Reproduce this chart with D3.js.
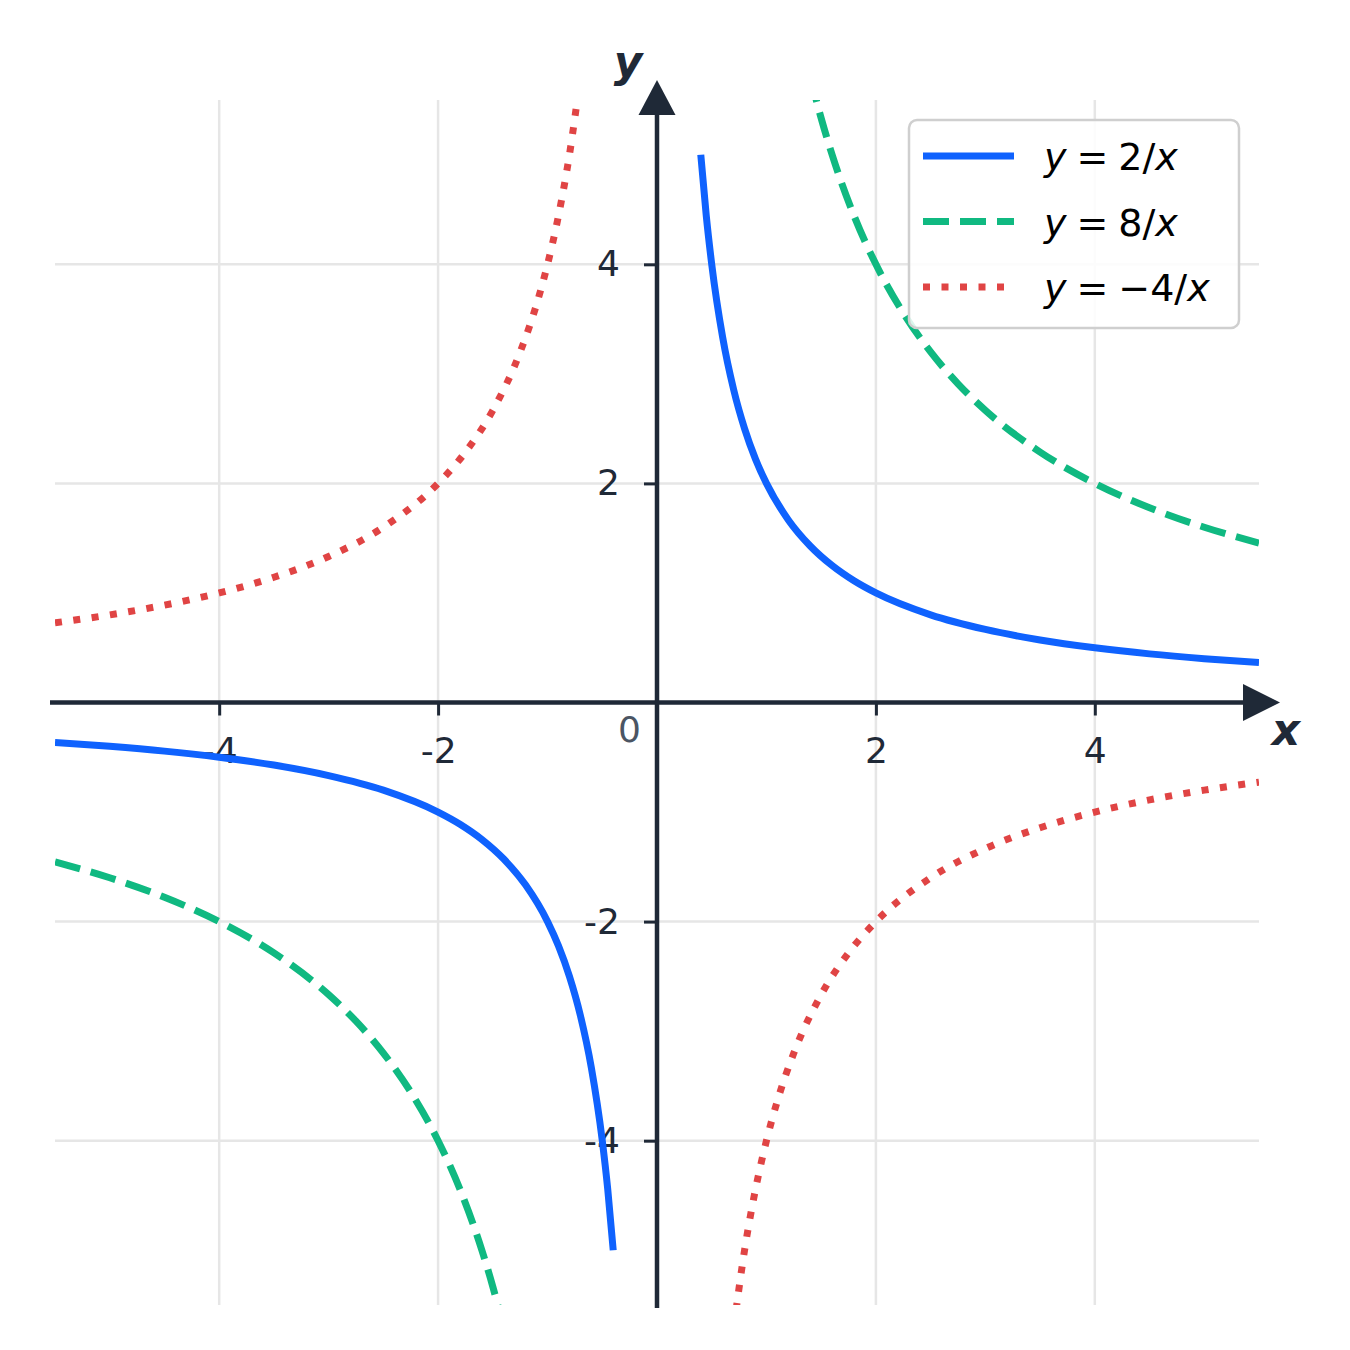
<!DOCTYPE html>
<html>
<head>
<meta charset="utf-8">
<script src="https://cdn.jsdelivr.net/npm/d3@7"></script>
<style>
    html, body { margin: 0; padding: 0; background: #fff; }
    svg { display: block; font-family: "DejaVu Sans", sans-serif; }
</style>
</head>
<body>
<div class="chart"></div>
<script>
(function() {

    // values, one branch per array
    var blueRightX = [0.4, 0.45, 0.5, 0.6, 0.7, 0.8, 0.9, 1.0, 1.2, 1.4, 1.6, 1.8, 2.0, 2.5, 3.0, 3.5, 4.0, 4.5, 5.0, 5.5];
    var blueRightY = [5.0, 4.444, 4.0, 3.333, 2.857, 2.5, 2.222, 2.0, 1.667, 1.429, 1.25, 1.111, 1.0, 0.8, 0.667, 0.571, 0.5, 0.444, 0.4, 0.364];
    var blueLeftX  = [-5.5, -5.0, -4.5, -4.0, -3.5, -3.0, -2.5, -2.0, -1.8, -1.6, -1.4, -1.2, -1.0, -0.9, -0.8, -0.7, -0.6, -0.5, -0.45, -0.4];
    var blueLeftY  = [-0.364, -0.4, -0.444, -0.5, -0.571, -0.667, -0.8, -1.0, -1.111, -1.25, -1.429, -1.667, -2.0, -2.222, -2.5, -2.857, -3.333, -4.0, -4.444, -5.0];

    var greenRightX = [1.4, 1.5, 1.6, 1.8, 2.0, 2.25, 2.5, 2.75, 3.0, 3.5, 4.0, 4.5, 5.0, 5.5];
    var greenRightY = [5.714, 5.333, 5.0, 4.444, 4.0, 3.556, 3.2, 2.909, 2.667, 2.286, 2.0, 1.778, 1.6, 1.455];
    var greenLeftX  = [-5.5, -5.0, -4.5, -4.0, -3.5, -3.0, -2.75, -2.5, -2.25, -2.0, -1.8, -1.6, -1.5, -1.4];
    var greenLeftY  = [-1.455, -1.6, -1.778, -2.0, -2.286, -2.667, -2.909, -3.2, -3.556, -4.0, -4.444, -5.0, -5.333, -5.714];

    var redLeftX  = [-5.5, -5.0, -4.5, -4.0, -3.5, -3.0, -2.5, -2.0, -1.75, -1.5, -1.25, -1.1, -1.0, -0.9, -0.8, -0.7];
    var redLeftY  = [0.727, 0.8, 0.889, 1.0, 1.143, 1.333, 1.6, 2.0, 2.286, 2.667, 3.2, 3.636, 4.0, 4.444, 5.0, 5.714];
    var redRightX = [0.7, 0.8, 0.9, 1.0, 1.1, 1.25, 1.5, 1.75, 2.0, 2.5, 3.0, 3.5, 4.0, 4.5, 5.0, 5.5];
    var redRightY = [-5.714, -5.0, -4.444, -4.0, -3.636, -3.2, -2.667, -2.286, -2.0, -1.6, -1.333, -1.143, -1.0, -0.889, -0.8, -0.727];

    var tickValues = [-4, -2, 2, 4];
    var seriesRhs = ['2/', '8/', '\u22124/'];

    var size = { w: 1350, h: 1350 };
    var ink = '#1f2937';

    var x = d3.scaleLinear().domain([-5.5, 5.5]).range([55, 1259]);
    var y = d3.scaleLinear().domain([-5.5, 5.5]).range([1305, 100]);

    var svg = d3.select('.chart')
        .append('svg')
        .attr('width', size.w)
        .attr('height', size.h);

    svg.append('defs').append('clipPath')
        .attr('id', 'plot-clip')
        .append('rect')
        .attr('x', x(-5.5))
        .attr('y', y(5.5))
        .attr('width', x(5.5) - x(-5.5))
        .attr('height', y(-5.5) - y(5.5));

    // grid
    var grid = svg.append('g').attr('class', 'grid');
    grid.selectAll('.grid__v')
        .data(tickValues)
        .enter()
        .append('line')
        .attr('x1', function(d) { return x(d); })
        .attr('x2', function(d) { return x(d); })
        .attr('y1', y(5.5))
        .attr('y2', y(-5.5));
    grid.selectAll('.grid__h')
        .data(tickValues)
        .enter()
        .append('line')
        .attr('y1', function(d) { return y(d); })
        .attr('y2', function(d) { return y(d); })
        .attr('x1', x(-5.5))
        .attr('x2', x(5.5));
    grid.selectAll('line')
        .attr('stroke', '#e6e6e6')
        .attr('stroke-width', 2.5);

    // axes through the origin
    var xAxis = svg.append('g')
        .attr('transform', 'translate(0,' + y(0) + ')')
        .call(d3.axisBottom(x).tickValues(tickValues).tickSize(13).tickPadding(22).tickFormat(d3.format('d')));
    var yAxis = svg.append('g')
        .attr('transform', 'translate(' + x(0) + ',0)')
        .call(d3.axisLeft(y).tickValues(tickValues).tickSize(13).tickPadding(24).tickFormat(d3.format('d')));

    [xAxis, yAxis].forEach(function(a) {
        a.select('.domain').remove();
        a.selectAll('.tick line').attr('stroke', ink).attr('stroke-width', 3);
        a.selectAll('.tick text')
            .attr('fill', ink)
            .attr('font-family', '"DejaVu Sans", sans-serif')
            .attr('font-size', 36)
            .text(function(d) { return String(d); });
    });

    svg.append('text')
        .attr('x', x(0) - 16)
        .attr('y', y(0) + 39)
        .attr('text-anchor', 'end')
        .attr('font-size', 36)
        .attr('fill', '#4b5563')
        .text('0');

    // curves
    function pts(xs, ys) {
        return xs.map(function(v, i) { return [v, ys[i]]; });
    }

    var line = d3.line()
        .x(function(d) { return x(d[0]); })
        .y(function(d) { return y(d[1]); })
        .curve(d3.curveMonotoneX);

    var series = [
        { branches: [pts(blueRightX, blueRightY), pts(blueLeftX, blueLeftY)], color: '#0f62fe', dash: null },
        { branches: [pts(greenRightX, greenRightY), pts(greenLeftX, greenLeftY)], color: '#10b981', dash: '26,11' },
        { branches: [pts(redLeftX, redLeftY), pts(redRightX, redRightY)], color: '#e04444', dash: '7,11.5' }
    ];

    var curves = svg.append('g').attr('clip-path', 'url(#plot-clip)');
    series.forEach(function(s) {
        curves.selectAll('stuff')
            .data(s.branches)
            .enter()
            .append('path')
            .attr('d', line)
            .attr('fill', 'none')
            .attr('stroke', s.color)
            .attr('stroke-width', 7)
            .attr('stroke-dasharray', s.dash);
    });

    // axis lines with arrow heads
    svg.append('line')
        .attr('x1', 50).attr('x2', 1250)
        .attr('y1', y(0)).attr('y2', y(0))
        .attr('stroke', ink).attr('stroke-width', 4.5);
    svg.append('path')
        .attr('d', 'M1280,' + y(0) + 'L1243,' + (y(0) - 18.5) + 'L1243,' + (y(0) + 18.5) + 'Z')
        .attr('fill', ink);
    svg.append('line')
        .attr('x1', x(0)).attr('x2', x(0))
        .attr('y1', 1308).attr('y2', 110)
        .attr('stroke', ink).attr('stroke-width', 4.5);
    svg.append('path')
        .attr('d', 'M' + x(0) + ',80L' + (x(0) - 18.5) + ',115L' + (x(0) + 18.5) + ',115Z')
        .attr('fill', ink);

    svg.append('text')
        .attr('x', 1286).attr('y', 745)
        .attr('text-anchor', 'middle')
        .attr('font-size', 44).attr('font-weight', 'bold').attr('font-style', 'italic')
        .attr('fill', ink)
        .text('x');
    svg.append('text')
        .attr('x', 628).attr('y', 77)
        .attr('text-anchor', 'middle')
        .attr('font-size', 44).attr('font-weight', 'bold').attr('font-style', 'italic')
        .attr('fill', ink)
        .text('y');

    // legend
    var legend = svg.append('g').attr('class', 'legend');
    legend.append('rect')
        .attr('x', 909).attr('y', 120)
        .attr('width', 330).attr('height', 208)
        .attr('rx', 8)
        .attr('fill', 'rgba(255,255,255,0.85)')
        .attr('stroke', '#cfcfcf')
        .attr('stroke-width', 2.5);

    var rows = legend.selectAll('.legend__row')
        .data(series)
        .enter()
        .append('g')
        .attr('transform', function(d, i) { return 'translate(0,' + (156 + i * 65.5) + ')'; });

    rows.append('line')
        .attr('x1', 923).attr('x2', 1014)
        .attr('stroke', function(d) { return d.color; })
        .attr('stroke-width', 7)
        .attr('stroke-dasharray', function(d) { return d.dash; });

    var labels = rows.append('text')
        .attr('x', 1044)
        .attr('y', 14)
        .attr('font-size', 38)
        .attr('fill', '#000');

    labels.each(function(d, i) {
        var t = d3.select(this);
        t.append('tspan').attr('font-style', 'italic').text('y');
        t.append('tspan').attr('dx', 10).text('=');
        t.append('tspan').attr('dx', 10).text(seriesRhs[i]);
        t.append('tspan').attr('font-style', 'italic').text('x');
    });

})();
</script>
</body>
</html>
